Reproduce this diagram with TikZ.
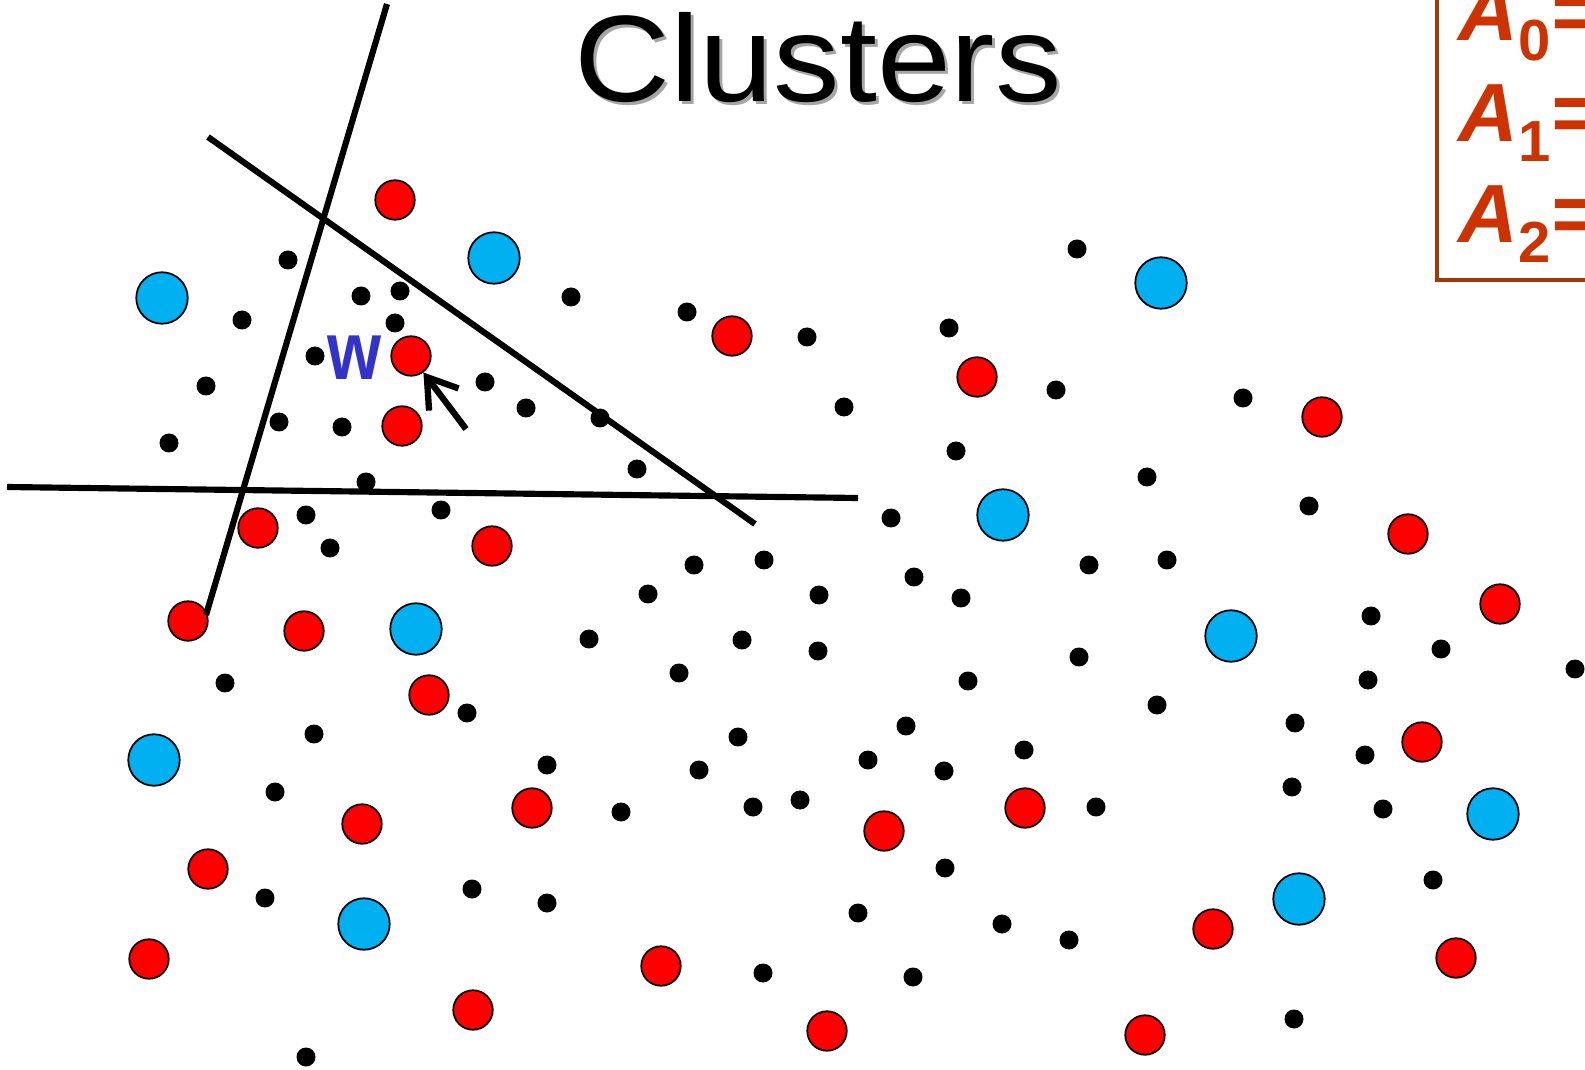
\documentclass[tikz,border=0pt]{standalone}
\usepackage{fontspec}
\setmainfont{Liberation Sans}
\usetikzlibrary{arrows.meta}

\definecolor{ptred}{RGB}{255,0,0}
\definecolor{ptblue}{RGB}{0,176,240}
\definecolor{boxbrown}{RGB}{160,56,8}
\definecolor{boxtext}{RGB}{204,51,0}
\definecolor{wblue}{RGB}{51,51,204}

\begin{document}
\begin{tikzpicture}[x=0.02cm,y=-0.02cm,
  blackpt/.style={circle,fill=black,inner sep=0pt,minimum size=3.8mm},
  redpt/.style={circle,draw=black,fill=ptred,line width=1pt,inner sep=0pt,minimum size=7.9mm},
  bluept/.style={circle,draw=black,fill=ptblue,line width=1pt,inner sep=0pt,minimum size=10.3mm},
  plane/.style={line width=3.5pt},
  pointer/.style={line width=3.6pt,-{Straight Barb[length=16pt,width=21pt]}},
  boxlabel/.style={anchor=base west,inner sep=0pt,text=boxtext,
    font=\bfseries\itshape\fontsize{47}{56}\selectfont}]
\useasboundingbox (0,0) rectangle (1585,1070);
\clip (0,0) rectangle (1585,1070);

% title
\node[anchor=base,text=black!35,font=\fontsize{70}{84}\selectfont] (titleshadow)
  at (821,105) {\scalebox{1.08}[1]{Clusters}};
\node[anchor=base,font=\fontsize{70}{84}\selectfont] (title)
  at (818,102) {\scalebox{1.08}[1]{Clusters}};

% unlabelled points
\foreach \px/\py [count=\i] in {288/260,242/320,206/386,169/443,361/296,400/291,
  395/323,315/356,485/382,526/408,279/422,342/427,366/482,306/515,330/548,441/510,
  571/297,687/312,807/337,949/328,1056/390,844/407,600/418,637/469,956/451,891/518,
  694/565,764/560,914/577,648/594,819/595,961/598,1077/249,1243/398,1147/477,
  1309/506,1089/565,1167/560,225/683,467/713,314/734,275/792,265/898,472/889,
  306/1057,589/639,742/640,818/651,679/673,968/681,906/726,738/737,1024/750,
  547/765,868/760,699/770,944/771,621/812,753/807,800/800,945/868,547/903,
  858/913,1002/924,763/973,913/977,1371/616,1079/657,1157/705,1441/649,1575/669,
  1368/680,1295/723,1365/755,1292/787,1383/809,1096/807,1433/880,1069/940,1294/1019}
  \node[blackpt] (b\i) at (\px,\py) {};

% one class
\foreach \px/\py [count=\i] in {395/200,402/426,258/528,492/546,732/336,977/377,
  1322/417,1408/534,1500/604,188/621,304/631,429/695,362/824,208/869,149/959,
  473/1010,532/808,884/831,1025/808,661/966,827/1031,1422/742,1213/929,1456/958,
  1145/1035}
  \node[redpt] (r\i) at (\px,\py) {};
\node[redpt] (w) at (411,356) {};

% other class
\foreach \px/\py [count=\i] in {162/298,494/258,1161/283,1003/515,416/629,
  1231/636,154/760,1493/814,1299/899,364/924}
  \node[bluept] (c\i) at (\px,\py) {};

% hyperplanes
\coordinate (p1a) at (387,4);
\coordinate (p1b) at (206,615);
\coordinate (p2a) at (208,137);
\coordinate (p2b) at (755,524);
\coordinate (p3a) at (7,487);
\coordinate (p3b) at (858,498);
\draw[plane] (p1a) -- (p1b);
\draw[plane] (p2a) -- (p2b);
\draw[plane] (p3a) -- (p3b);

% the point w
\node[text=wblue,font=\bfseries\fontsize{47}{56}\selectfont] (wlabel)
  at (354,358) {\scalebox{0.84}[1]{w}};
\coordinate (wtail) at (466,429);
\draw[pointer] (wtail) -- (w);

% box of A's
\draw[boxbrown,line width=2.3pt] (1437,-20) rectangle (1640,280);
\node[boxlabel] (a0) at (1458,41) {A\raisebox{-11pt}{\upshape\fontsize{33}{40}\selectfont 0}=};
\node[boxlabel] (a1) at (1458,142) {A\raisebox{-11pt}{\upshape\fontsize{33}{40}\selectfont 1}=};
\node[boxlabel] (a2) at (1458,243) {A\raisebox{-11pt}{\upshape\fontsize{33}{40}\selectfont 2}=};
\end{tikzpicture}
\end{document}
